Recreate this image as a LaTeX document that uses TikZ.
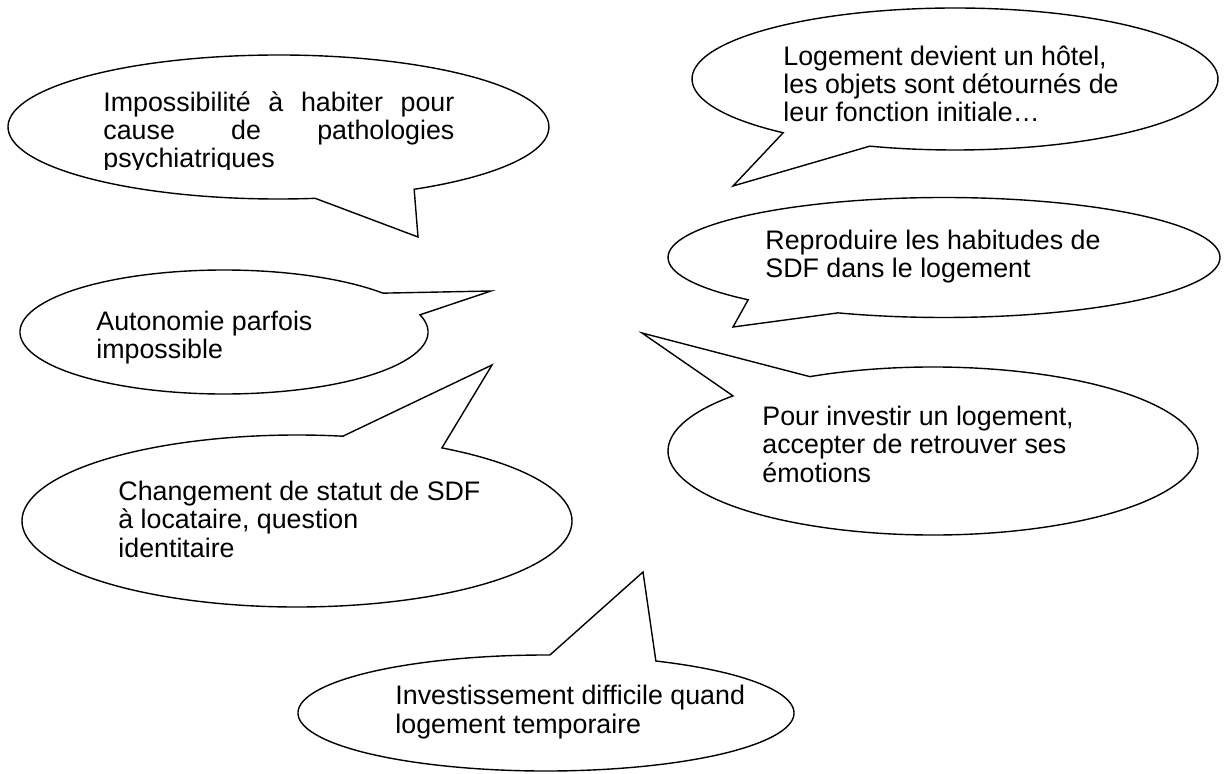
\documentclass[tikz,border=0pt]{standalone}
\usepackage{fontspec}
\setmainfont{Liberation Sans}
\usepackage{tikz}

% bulle : centre, rayons, angles de la base de la pointe, pointe
\newcommand{\bulle}[8]{%
  \draw[bulle] ({#1+#3*cos(#5)},{#2+#4*sin(#5)})
    arc[start angle=#5, end angle=#6, x radius=#3, y radius=#4]
    -- (#7,#8) -- cycle;}

\begin{document}
\begin{tikzpicture}[
		x=0.5pt, y=-0.5pt,
		bulle/.style={draw, line width=0.7pt, line join=miter},
		texte/.style={anchor=base west, align=left, inner sep=0pt, font=\fontsize{13.4}{14.2}\selectfont}
		]
		\useasboundingbox (0,0) rectangle (1224,774);
		
		% Bulles
		\bulle{278.5}{127}{270.5}{72}{82.2}{419.9}{418}{237}
		\bulle{955}{79}{263}{71}{130.8}{468.9}{733}{186}
		\bulle{224}{332}{204}{62}{-16.1}{321.2}{491}{291}
		\bulle{944}{257.5}{276}{60}{135.2}{472.6}{733}{327}
		\bulle{933}{451}{265}{84}{242.3}{581}{642}{333}
		\bulle{297}{521}{275}{86}{301.8}{639.6}{492}{365}
		\bulle{546}{713}{248}{58}{296.3}{630.9}{643}{572}
		
		% Textes (ancre sur la ligne de base de la derniere ligne)
		\begin{scope}
			\clip (90,80) rectangle (470,170);
			\node[texte] (impossibilite) at (103,168) {\makebox[175.5pt][s]{Impossibilité à habiter pour}\\\makebox[175.5pt][s]{cause de pathologies}\\psychiatriques};
		\end{scope}
		\node[texte] (hotel) at (783,122) {Logement devient un hôtel,\\les objets sont détournés de\\leur fonction initiale…};
		\node[texte] (autonomie) at (96,359) {Autonomie parfois\\impossible};
		\node[texte] (habitudes) at (765,278) {Reproduire les habitudes de\\SDF dans le logement};
		\node[texte] (emotions) at (762,482) {Pour investir un logement,\\accepter de retrouver ses\\émotions};
		\node[texte] (statut) at (118,557) {Changement de statut de SDF\\à locataire, question\\identitaire};
		\node[texte] (temporaire) at (395,733) {Investissement difficile quand\\logement temporaire};
		
	\end{tikzpicture}
\end{document}
